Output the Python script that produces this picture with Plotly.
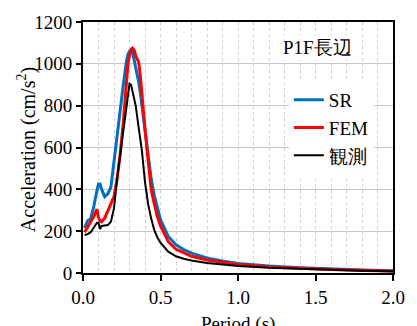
import plotly.graph_objects as go

period = [0.01, 0.03, 0.05, 0.07, 0.09, 0.10, 0.11, 0.12, 0.14, 0.16, 0.18, 0.20, 0.22, 0.24,
          0.26, 0.28, 0.29, 0.30, 0.31, 0.32, 0.33, 0.34, 0.36, 0.37, 0.38, 0.40, 0.42, 0.44,
          0.46, 0.48, 0.50, 0.55, 0.60, 0.65, 0.70, 0.80, 0.90, 1.0, 1.2, 1.4, 1.6, 1.8, 2.0]

sr = [215, 250, 260, 320, 395, 425, 425, 400, 365, 378, 410, 540, 650, 790,
      900, 1010, 1045, 1060, 1068, 1055, 1020, 990, 910, 860, 800, 680, 560, 450,
      370, 305, 255, 175, 135, 112, 95, 72, 57, 46, 33, 25, 19, 14, 10]

fem = [195, 220, 245, 270, 305, 265, 250, 245, 262, 295, 335, 365, 450, 570,
       720, 900, 1000, 1040, 1065, 1075, 1065, 1040, 1005, 940, 850, 690, 540, 400,
       330, 270, 225, 150, 113, 95, 80, 62, 50, 41, 29, 22, 17, 12, 9]

obs = [182, 186, 195, 220, 240, 240, 210, 225, 228, 229, 245, 310, 450, 580,
       680, 790, 850, 905, 900, 870, 835, 800, 690, 640, 585, 435, 330, 260,
       205, 170, 145, 102, 80, 68, 60, 48, 40, 34, 25, 19, 15, 11, 8]

series_names = ["SR", "FEM", "観測"]
x_ticks = [0.0, 0.5, 1.0, 1.5, 2.0]
x_ticklabels = ["0.0", "0.5", "1.0", "1.5", "2.0"]
y_ticks = [0, 200, 400, 600, 800, 1000, 1200]

FONT = "Liberation Serif"

fig = go.Figure()
fig.add_trace(go.Scatter(x=period, y=sr, name=series_names[0], mode="lines",
                         line=dict(color="#0070C0", width=3)))
fig.add_trace(go.Scatter(x=period, y=fem, name=series_names[1], mode="lines",
                         line=dict(color="#FF0000", width=3)))
fig.add_trace(go.Scatter(x=period, y=obs, name=series_names[2], mode="lines",
                         line=dict(color="#000000", width=2)))

fig.update_layout(
    width=417, height=326,
    margin=dict(l=83, r=15, t=22, b=53),
    plot_bgcolor="white", paper_bgcolor="white",
    font=dict(family=FONT, size=19, color="black"),
    showlegend=True,
    legend=dict(x=0.664, y=0.765, xanchor="left", yanchor="top",
                bgcolor="white", borderwidth=0,
                font=dict(family=FONT, size=19),
                tracegroupgap=0),
    xaxis=dict(range=[0, 2.0], tickvals=x_ticks, ticktext=x_ticklabels,
               ticks="outside", ticklen=6, tickwidth=1.5, tickcolor="black",
               showline=True, linecolor="black", linewidth=2, mirror=True,
               showgrid=True, gridcolor="#d0d0d0", gridwidth=1, griddash="dot",
               minor=dict(dtick=0.1, showgrid=True, gridcolor="#d0d0d0", griddash="dot", gridwidth=1),
               zeroline=False, tickfont=dict(family=FONT, size=19)),
    yaxis=dict(range=[0, 1200], tickvals=y_ticks,
               ticks="outside", ticklen=5, tickwidth=1.5, tickcolor="black",
               showline=True, linecolor="black", linewidth=2, mirror=True,
               showgrid=True, gridcolor="#c8c8c8", gridwidth=1,
               zeroline=False, tickfont=dict(family=FONT, size=19)),
)

fig.add_annotation(text="Acceleration (cm/s<sup>2</sup>)", xref="paper", yref="paper",
                   x=(24.5 - 83) / 319, y=(273 - 150) / 251, xanchor="center", yanchor="middle",
                   textangle=-90, showarrow=False, font=dict(family=FONT, size=20))
fig.add_annotation(text="Period (s)", xref="paper", yref="paper",
                   x=0.5, y=(273 - 324) / 251, xanchor="center", yanchor="middle",
                   showarrow=False, font=dict(family=FONT, size=19))
fig.add_annotation(text="P1F長辺", xref="paper", yref="paper",
                   x=(324 - 83) / 319, y=(273 - 47) / 251, xanchor="center", yanchor="middle",
                   showarrow=False, bgcolor="white", font=dict(family=FONT, size=19))

fig.write_html("out.html")
